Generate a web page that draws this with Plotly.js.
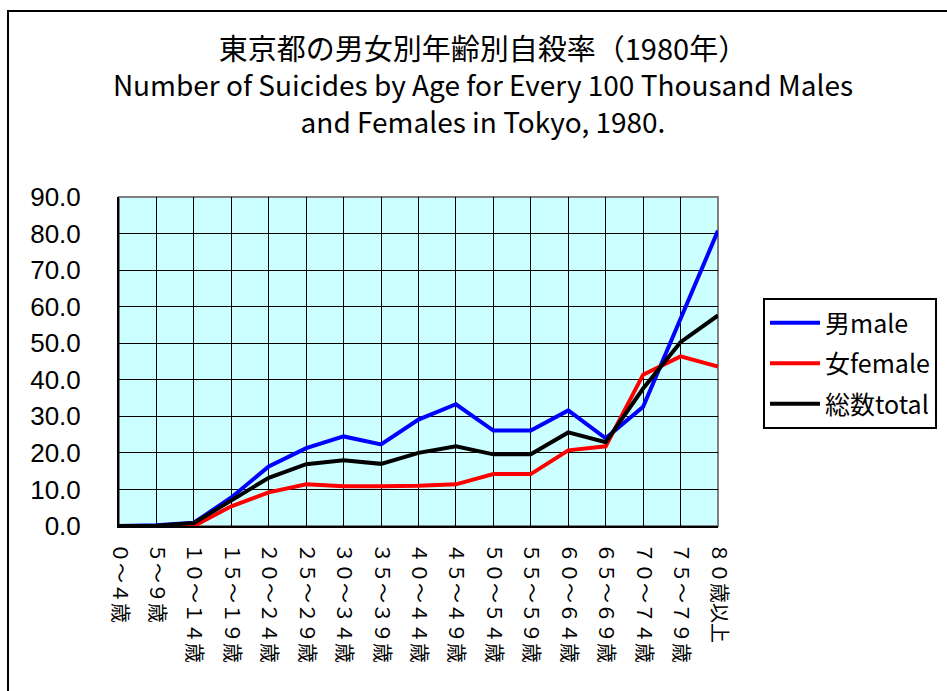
<!DOCTYPE html>
<html>
<head>
<meta charset="utf-8">
<script src="https://cdn.plot.ly/plotly-3.0.1.min.js"></script>
<style>
html,body{margin:0;padding:0;overflow:hidden;background:#fff;}
#chart{width:947px;height:691px;position:absolute;left:0;top:0;}
#frame{position:absolute;left:7px;top:10px;width:1000px;height:800px;border:2px solid #000;pointer-events:none;}
</style>
</head>
<body>
<div id="chart"></div>
<div id="frame"></div>
<script>
const ageGroups = ["０～４歳","５～９歳","１０～１４歳","１５～１９歳","２０～２４歳","２５～２９歳","３０～３４歳","３５～３９歳","４０～４４歳","４５～４９歳","５０～５４歳","５５～５９歳","６０～６４歳","６５～６９歳","７０～７４歳","７５～７９歳","８０歳以上"];
const maleRate   = [0.0, 0.2, 0.9, 7.8, 16.3, 21.3, 24.5, 22.3, 29.1, 33.3, 26.1, 26.1, 31.6, 24.0, 32.6, 56.5, 80.8];
const femaleRate = [0.0, 0.0, 0.0, 5.4, 9.2, 11.4, 10.9, 10.9, 11.0, 11.4, 14.2, 14.2, 20.7, 21.8, 41.4, 46.4, 43.6];
const totalRate  = [0.0, 0.1, 0.8, 7.0, 13.2, 16.9, 18.0, 17.0, 20.0, 21.8, 19.6, 19.6, 25.6, 22.9, 37.6, 50.3, 57.6];
const seriesNames = ["男male", "女female", "総数total"];
const yTicks = [0,10,20,30,40,50,60,70,80,90];

const traces = [
  {x: ageGroups, y: maleRate, name: seriesNames[0], legendgroup: 'm', type: 'scatter', mode: 'lines', line: {color: '#0000FF', width: 4}},
  {x: ageGroups, y: femaleRate, name: seriesNames[1], legendgroup: 'f', type: 'scatter', mode: 'lines', line: {color: '#FF0000', width: 4}},
  {x: ageGroups, y: totalRate, name: seriesNames[2], legendgroup: 't', type: 'scatter', mode: 'lines', line: {color: '#000000', width: 4}}
];

const layout = {
  width: 947, height: 691,
  margin: {l: 119, r: 229, t: 197, b: 165, pad: 0, autoexpand: false},
  paper_bgcolor: '#FFFFFF',
  plot_bgcolor: '#CCFFFF',
  showlegend: true,
  title: {
    text: '<span style="font-size:29px">東京都の男女別年齢別自殺率（1980年）</span><br>Number of Suicides by Age for Every 100 Thousand Males<br>and Females in Tokyo, 1980.',
    font: {family: '"Noto Sans CJK JP", "Noto Sans", sans-serif', size: 28, color: '#000'},
    x: 0.51, xref: 'container', xanchor: 'center',
    y: 1 - 60/691, yref: 'container', yanchor: 'top'
  },
  xaxis: {
    type: 'category',
    range: [0, 16],
    showgrid: true, gridcolor: '#000000', gridwidth: 1,
    showline: true, linecolor: '#000000', linewidth: 2,
    tickangle: 90,
    ticks: '',
    ticklabelstandoff: 11,
    tickfont: {family: '"Noto Sans CJK JP", sans-serif', size: 20, color: '#000'},
    zeroline: false, fixedrange: true
  },
  yaxis: {
    range: [0, 90],
    tickvals: yTicks,
    tickformat: '.1f',
    showgrid: true, gridcolor: '#000000', gridwidth: 1,
    showline: true, linecolor: '#000000', linewidth: 2,
    ticks: '',
    ticklabelstandoff: 31,
    tickfont: {family: '"Liberation Sans", Arial, sans-serif', size: 26, color: '#000'},
    zeroline: false, fixedrange: true
  },
  shapes: [
    {type: 'rect', xref: 'paper', yref: 'paper', x0: 0, x1: 1, y0: 0, y1: 1,
     line: {color: '#808080', width: 2}, layer: 'below'}
  ],
  legend: {
    x: (763 - 119) / 599, xanchor: 'left',
    y: (526 - 298) / 329, yanchor: 'top',
    bgcolor: '#FFFFFF', bordercolor: '#000000', borderwidth: 2,
    font: {family: '"Noto Sans CJK JP", sans-serif', size: 25, color: '#000'},
    tracegroupgap: 5,
    itemwidth: 50
  }
};

Plotly.newPlot('chart', traces, layout, {displayModeBar: false, staticPlot: true});
</script>
</body>
</html>
